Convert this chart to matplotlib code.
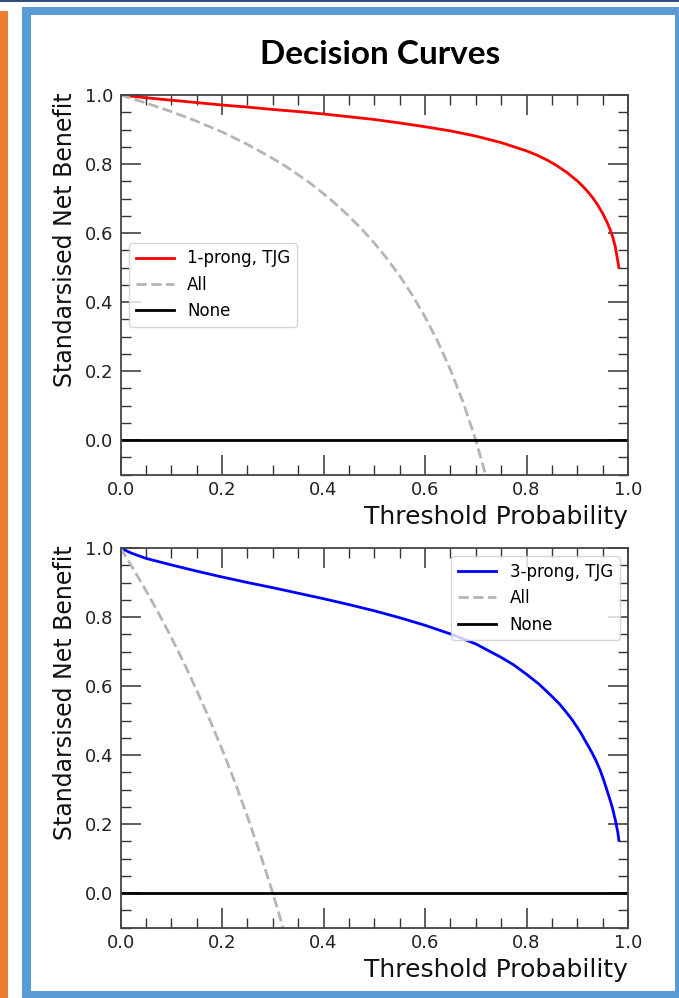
import matplotlib
matplotlib.use("Agg")
import matplotlib.pyplot as plt
from matplotlib.patches import Rectangle
from matplotlib.ticker import MultipleLocator

plt.rcParams["font.family"] = ["DejaVu Sans"]

# ---------------- data ----------------
thr_1prong = [0.0, 0.05, 0.10, 0.15, 0.20, 0.25, 0.30, 0.35, 0.40, 0.45, 0.50,
              0.55, 0.60, 0.65, 0.70, 0.75, 0.80, 0.82, 0.84, 0.86, 0.88, 0.90,
              0.91, 0.92, 0.93, 0.94, 0.95, 0.96, 0.965, 0.97, 0.975, 0.98, 0.982]
nb_1prong = [1.000, 0.992, 0.985, 0.978, 0.971, 0.965, 0.958, 0.952, 0.945, 0.937, 0.929,
             0.919, 0.908, 0.896, 0.881, 0.862, 0.838, 0.826, 0.812, 0.795, 0.775, 0.751,
             0.737, 0.721, 0.703, 0.682, 0.657, 0.627, 0.609, 0.588, 0.560, 0.518, 0.500]

thr_3prong = [0.0, 0.02, 0.05, 0.10, 0.15, 0.20, 0.25, 0.30, 0.35, 0.40, 0.45, 0.50,
              0.55, 0.60, 0.65, 0.70, 0.75, 0.775, 0.80, 0.825, 0.85, 0.865, 0.88,
              0.89, 0.90, 0.9075, 0.915, 0.9225, 0.93, 0.9375, 0.945, 0.951, 0.957,
              0.965, 0.97, 0.976, 0.98, 0.982]
nb_3prong = [1.000, 0.986, 0.970, 0.951, 0.933, 0.916, 0.900, 0.885, 0.869, 0.853, 0.836, 0.818,
             0.798, 0.776, 0.751, 0.722, 0.683, 0.661, 0.634, 0.605, 0.570, 0.548, 0.521,
             0.502, 0.480, 0.463, 0.443, 0.424, 0.404, 0.382, 0.356, 0.332, 0.305,
             0.268, 0.243, 0.205, 0.175, 0.153]

thr_all_top = [0.0, 0.05, 0.10, 0.15, 0.20, 0.25, 0.30, 0.325, 0.35, 0.375, 0.40, 0.425,
               0.45, 0.475, 0.50, 0.525, 0.55, 0.575, 0.60, 0.625, 0.65, 0.675, 0.70,
               0.725, 0.75]
nb_all_top = [1.000, 0.977, 0.952, 0.924, 0.893, 0.857, 0.816, 0.794, 0.769, 0.743, 0.714, 0.683,
              0.649, 0.612, 0.571, 0.526, 0.476, 0.420, 0.357, 0.286, 0.204, 0.110, 0.000,
              -0.130, -0.286]
thr_all_bot = [0.0, 0.025, 0.05, 0.075, 0.10, 0.125, 0.15, 0.175, 0.20, 0.225, 0.25,
               0.275, 0.30, 0.325, 0.35]
nb_all_bot = [1.000, 0.940, 0.877, 0.811, 0.741, 0.667, 0.588, 0.505, 0.417, 0.323, 0.222,
              0.115, 0.000, -0.124, -0.256]

thr_none = [0.0, 1.0]
nb_none = [0.0, 0.0]

labels_top = ["1-prong, TJG", "All", "None"]
labels_bot = ["3-prong, TJG", "All", "None"]
title = "Decision Curves"
xlabel = "Threshold Probability"
ylabel = "Standarsised Net Benefit"

# ---------------- figure ----------------
W, H = 679, 998
fig = plt.figure(figsize=(W / 100, H / 100), dpi=100)
fig.patch.set_facecolor("white")

def px_rect(x0, y0, x1, y1, color):
    fig.patches.append(Rectangle((x0 / W, 1 - y1 / H), (x1 - x0) / W, (y1 - y0) / H,
                                 transform=fig.transFigure, facecolor=color,
                                 edgecolor="none", zorder=0))

# slide decorations
px_rect(0, 0, W, 2, "#2F4F7F")
px_rect(0, 11, 8, H, "#ED7D31")
blue = "#5B9BD5"
px_rect(22, 7, 31, H, blue)
px_rect(22, 7, W, 15, blue)
px_rect(22, 991, W, H, blue)
px_rect(675, 7, W, H, blue)

fig.text(380 / W, 1 - 55 / H, title, fontfamily="Lato", fontweight="bold",
         fontsize=24, ha="center", va="center")

axl, axw, axh = 120.5 / W, 507.5 / W, 379.5 / H
ax1 = fig.add_axes([axl, 1 - 474.5 / H, axw, axh])
ax2 = fig.add_axes([axl, 1 - 927.5 / H, axw, axh])

gray = "#b5b5b5"

def style(ax):
    ax.set_xlim(0, 1)
    ax.set_ylim(-0.1, 1.0)
    ax.xaxis.set_major_locator(MultipleLocator(0.2))
    ax.xaxis.set_minor_locator(MultipleLocator(0.05))
    ax.yaxis.set_major_locator(MultipleLocator(0.2))
    ax.yaxis.set_minor_locator(MultipleLocator(0.05))
    ax.tick_params(which="both", direction="in", top=True, right=True,
                   color="#333333")
    ax.tick_params(which="major", length=14.5, width=1.1, labelsize=13, pad=5,
                   labelcolor="#222222")
    ax.tick_params(which="minor", length=7.5, width=1.0)
    for s in ax.spines.values():
        s.set_color("#444444")
        s.set_linewidth(1.3)
    ax.set_xlabel(xlabel, fontsize=18, ha="right", va="top", color="#111111")
    ax.xaxis.set_label_coords(1.0, -0.08)
    ax.set_ylabel(ylabel, fontsize=17, ha="center", va="bottom", color="#111111")
    ax.yaxis.set_label_coords(-0.086, 0.62)

ax1.plot(thr_1prong, nb_1prong, color="red", lw=2, label=labels_top[0])
ax1.plot(thr_all_top, nb_all_top, color=gray, lw=2, ls="--", label=labels_top[1])
ax1.plot(thr_none, nb_none, color="black", lw=2, label=labels_top[2])
style(ax1)
ax1.legend(loc="center left", fontsize=12, handlelength=2.3)

ax2.plot(thr_3prong, nb_3prong, color="blue", lw=2, label=labels_bot[0])
ax2.plot(thr_all_bot, nb_all_bot, color=gray, lw=2, ls="--", label=labels_bot[1])
ax2.plot(thr_none, nb_none, color="black", lw=2, label=labels_bot[2])
style(ax2)
ax2.legend(loc="upper right", fontsize=12, handlelength=2.3)

fig.savefig("out.png", dpi=100, facecolor="white")
